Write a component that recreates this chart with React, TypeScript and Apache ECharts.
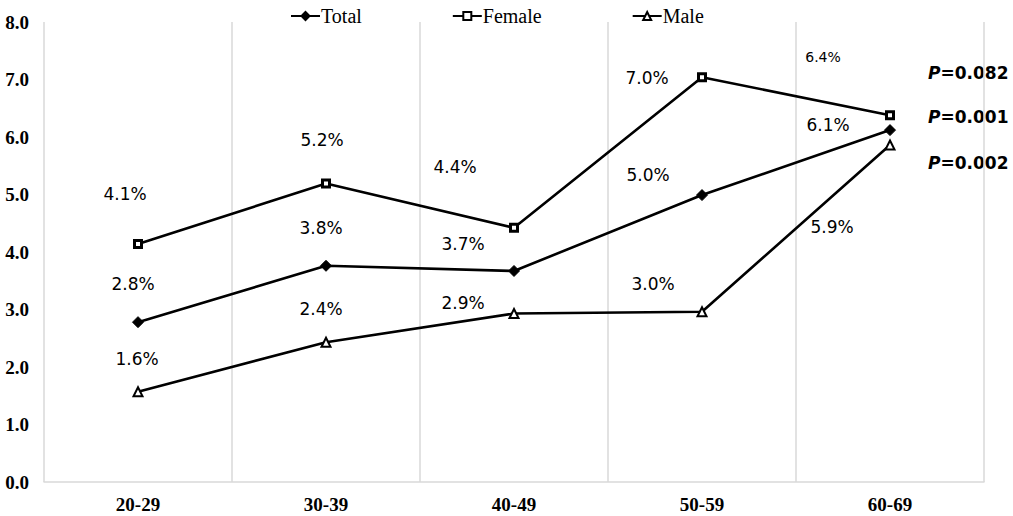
import React, { useEffect, useRef } from "react";
import * as echarts from "echarts";

const categories = ["20-29", "30-39", "40-49", "50-59", "60-69"];
const totalValues = [2.78, 3.76, 3.67, 4.99, 6.12];
const femaleValues = [4.14, 5.19, 4.42, 7.04, 6.38];
const maleValues = [1.57, 2.43, 2.93, 2.96, 5.86];
const yTickMin = 0;
const yTickMax = 8;
const yTickInterval = 1;
const pLabels = [
  { name: "Female", p: "0.082" },
  { name: "Total", p: "0.001" },
  { name: "Male", p: "0.002" },
];

// label placement (style only)
const totalOffsets = [[-5, -38], [-5, -38], [-51, -27], [-54, -20], [-62, -5]];
const femaleOffsets = [[-13, -50], [-4, -44], [-59, -61], [-55, 1], [-67, -58]];
const maleOffsets = [[-1, -33], [-5, -33], [-51, -11], [-49, -28], [-58, 82]];
const femaleLabelSizes = [17, 17, 17, 17, 14];
const pLabelY = [73, 117, 163];

const labelFont = "'DejaVu Sans', 'Noto Sans', sans-serif";
const serifFont = "'Liberation Serif', 'Times New Roman', serif";

function buildData(values: number[], offsets: number[][], sizes?: number[]) {
  return values.map((v, i) => ({
    value: v,
    label: {
      offset: offsets[i],
      fontSize: sizes ? sizes[i] : 17,
    },
  }));
}

const baseLabel = {
  show: true,
  position: "inside" as const,
  color: "#000",
  fontFamily: labelFont,
  fontSize: 17,
  formatter: (p: any) => Number(p.value).toFixed(1) + "%",
};

export default function App() {
  const ref = useRef<HTMLDivElement>(null);
  useEffect(() => {
    if (!ref.current) return;
    const chart = echarts.init(ref.current, undefined, { renderer: "svg" });
    chart.setOption({
      animation: false,
      backgroundColor: "#fff",
      grid: { left: 44, right: 29, top: 22, bottom: 34, containLabel: false },
      legend: {
        top: 1,
        left: 285,
        itemGap: 90,
        itemWidth: 29,
        itemHeight: 10,
        textStyle: { fontFamily: serifFont, fontSize: 20, color: "#000", padding: [0, 0, 0, -4] },
        data: ["Total", "Female", "Male"],
      },
      xAxis: {
        type: "category",
        data: categories,
        boundaryGap: true,
        axisLine: { show: true, lineStyle: { color: "#d9d9d9", width: 1.5 } },
        axisTick: { show: false },
        splitLine: { show: true, lineStyle: { color: "#d9d9d9", width: 1.5 } },
        axisLabel: {
          color: "#000",
          fontFamily: serifFont,
          fontWeight: "bold",
          fontSize: 19,
          margin: 13,
        },
      },
      yAxis: {
        type: "value",
        min: yTickMin,
        max: yTickMax,
        interval: yTickInterval,
        axisLine: { show: false },
        axisTick: { show: false },
        splitLine: { show: false },
        axisLabel: {
          color: "#000",
          fontFamily: serifFont,
          fontWeight: "bold",
          fontSize: 19,
          margin: 15,
          formatter: (v: number) => v.toFixed(1),
        },
      },
      series: [
        {
          name: "Total",
          type: "line",
          data: buildData(totalValues, totalOffsets),
          symbol: "diamond",
          symbolSize: 11,
          lineStyle: { color: "#000", width: 2.6 },
          itemStyle: { color: "#000", borderColor: "#000", borderWidth: 1 },
          label: baseLabel,
          z: 3,
        },
        {
          name: "Female",
          type: "line",
          data: buildData(femaleValues, femaleOffsets, femaleLabelSizes),
          symbol: "rect",
          symbolSize: 7,
          lineStyle: { color: "#000", width: 2.6 },
          itemStyle: { color: "#fff", borderColor: "#000", borderWidth: 3 },
          label: baseLabel,
          z: 3,
        },
        {
          name: "Male",
          type: "line",
          data: buildData(maleValues, maleOffsets),
          symbol: "triangle",
          symbolSize: 9,
          lineStyle: { color: "#000", width: 2.6 },
          itemStyle: { color: "#fff", borderColor: "#000", borderWidth: 2 },
          label: baseLabel,
          z: 3,
        },
      ],
      graphic: pLabels.map((pl, i) => ({
        type: "text",
        x: 928,
        y: pLabelY[i],
        style: {
          text: `{p|P}{e|=}{n|${pl.p}}`,
          verticalAlign: "middle",
          rich: {
            p: { fontFamily: labelFont, fontSize: 17, fontWeight: "bold", fontStyle: "italic", fill: "#000" },
            e: { fontFamily: labelFont, fontSize: 17, fontWeight: "bold", fontStyle: "italic", fill: "#000" },
            n: { fontFamily: labelFont, fontSize: 17, fontWeight: "bold", fill: "#000" },
          },
        },
      })),
    });
    return () => chart.dispose();
  }, []);
  return (
    <div
      ref={ref}
      style={{ position: "fixed", left: 0, top: 0, width: 1013, height: 516, background: "#fff" }}
    />
  );
}
